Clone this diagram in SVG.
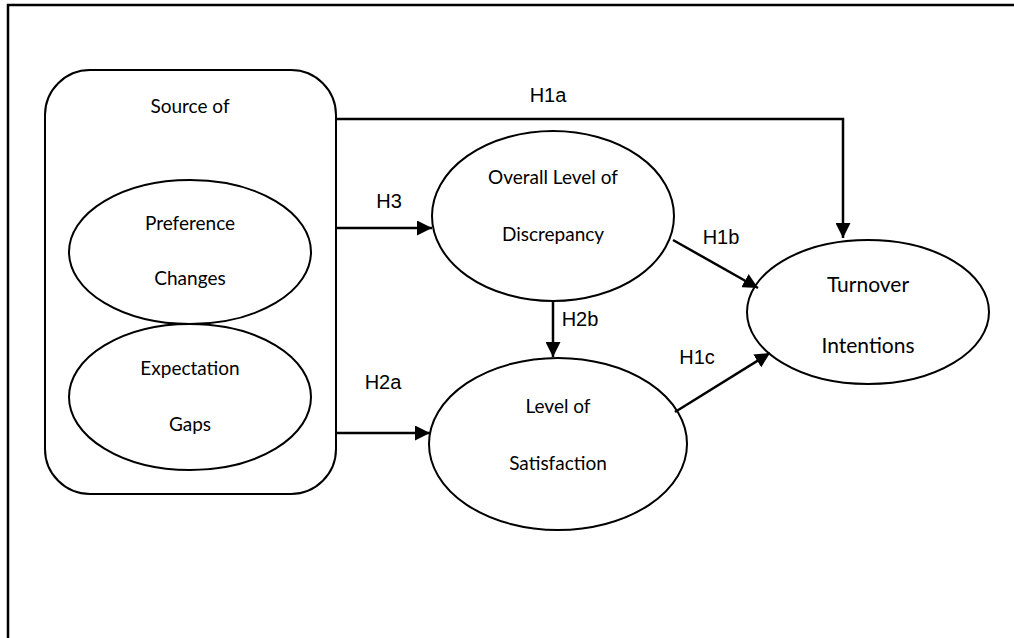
<svg xmlns="http://www.w3.org/2000/svg" width="1014" height="638" viewBox="0 0 1014 638">
<style>
.shape{fill:none;stroke:#000;stroke-width:2}
.lbl{font-family:Lato,"Open Sans",sans-serif;font-size:19px;fill:#000;text-anchor:middle;dominant-baseline:central}
.h{font-family:"Liberation Sans",Arial,sans-serif;font-size:20px;fill:#000;text-anchor:middle;dominant-baseline:central}
.con{fill:none;stroke:#000;stroke-width:2.5}
</style>
<defs>
<marker id="arr" viewBox="0 0 10 10" refX="10" refY="5" markerWidth="6" markerHeight="6" markerUnits="strokeWidth" orient="auto">
<path d="M0,0 L10,5 L0,10 Z" fill="#000"/>
</marker>
</defs>
<rect width="1014" height="638" fill="#fff"/>
<g id="frame">
<path d="M8,638 L8,5 L1014,5" fill="none" stroke="#000" stroke-width="2.5"/>
</g>
<g id="source">
<rect class="shape" x="45" y="70" width="291" height="424" rx="45" ry="45"/>
<text class="lbl" x="190" y="105">Source of</text>
</g>
<g id="preference">
<ellipse class="shape" cx="190" cy="252" rx="121" ry="72"/>
<text class="lbl" x="190" y="222">Preference</text>
<text class="lbl" x="190" y="277">Changes</text>
</g>
<g id="expectation">
<ellipse class="shape" cx="190" cy="397" rx="121" ry="73"/>
<text class="lbl" x="190" y="367">Expectation</text>
<text class="lbl" x="190" y="423">Gaps</text>
</g>
<g id="discrepancy">
<ellipse class="shape" cx="553" cy="216" rx="121" ry="85"/>
<text class="lbl" x="553" y="176">Overall Level of</text>
<text class="lbl" x="553" y="233">Discrepancy</text>
</g>
<g id="satisfaction">
<ellipse class="shape" cx="558" cy="444" rx="129" ry="86"/>
<text class="lbl" x="558" y="405">Level of</text>
<text class="lbl" x="558" y="462">Satisfaction</text>
</g>
<g id="turnover">
<ellipse class="shape" cx="868" cy="312" rx="121" ry="72"/>
<text class="lbl" x="868" y="283" style="font-size:21px">Turnover</text>
<text class="lbl" x="868" y="344" style="font-size:21px">Intentions</text>
</g>
<g id="connectors">
<path class="con" d="M336,119 L843,119 L843,238" marker-end="url(#arr)"/>
<path class="con" d="M336,228 L432,228" marker-end="url(#arr)"/>
<path class="con" d="M336,433 L430,433" marker-end="url(#arr)"/>
<path class="con" d="M553,300 L553,357" marker-end="url(#arr)"/>
<path class="con" d="M673,240 L758,288" marker-end="url(#arr)"/>
<path class="con" d="M675,412 L770,353" marker-end="url(#arr)"/>
<text class="h" x="548" y="95">H1a</text>
<text class="h" x="389" y="201">H3</text>
<text class="h" x="721" y="237">H1b</text>
<text class="h" x="580" y="319">H2b</text>
<text class="h" x="697" y="357">H1c</text>
<text class="h" x="383" y="382">H2a</text>
</g>
</svg>
